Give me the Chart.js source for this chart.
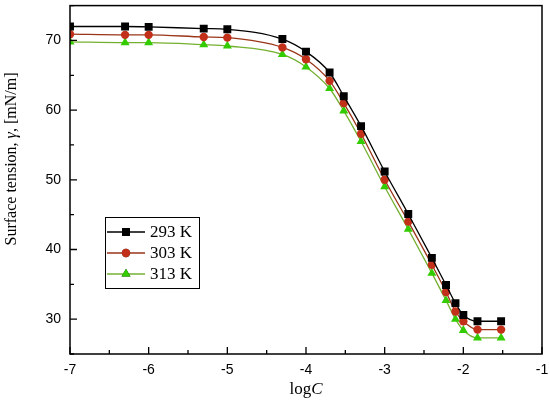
<!DOCTYPE html>
<html>
<head>
<meta charset="utf-8">
<script src="https://cdn.jsdelivr.net/npm/chart.js@4"></script>
<style>
  html, body { margin: 0; padding: 0; background: #fff; }
  #wrap { width: 550px; height: 406px; position: relative; }
</style>
</head>
<body>
<div id="wrap"><canvas id="chart"></canvas></div>
<script>
// logC values (same for all temperatures)
const logC = [-7, -6.3, -6, -5.3, -5, -4.3, -4, -3.7, -3.52, -3.3, -3, -2.7, -2.4, -2.22, -2.1, -2, -1.82, -1.52];

// surface tension, mN/m
const gamma293 = [72.0, 72.0, 71.95, 71.7, 71.6, 70.2, 68.4, 65.4, 62.0, 57.7, 51.2, 45.1, 38.8, 34.9, 32.3, 30.6, 29.7, 29.7];
const gamma303 = [70.9, 70.8, 70.8, 70.5, 70.4, 69.0, 67.3, 64.2, 61.0, 56.6, 50.0, 44.0, 37.8, 33.9, 31.1, 29.7, 28.5, 28.5];
const gamma313 = [69.8, 69.7, 69.7, 69.4, 69.2, 68.0, 66.2, 63.1, 59.9, 55.5, 49.0, 42.9, 36.6, 32.7, 30.0, 28.4, 27.3, 27.3];

const seriesNames = ['293 K', '303 K', '313 K'];

const xTicks = [-7, -6, -5, -4, -3, -2, -1];
const yTicks = [30, 40, 50, 60, 70];

const serif = '"Liberation Serif", "Times New Roman", serif';
const sans = '"Liberation Sans", Arial, sans-serif';

const toPts = (ys) => ys.map((y, i) => ({ x: logC[i], y: y }));

// no extra room for the end labels, the frame is placed by layout.padding
const noPad = (s) => { s.paddingTop = 0; s.paddingBottom = 0; s.paddingLeft = 0; s.paddingRight = 0; };

// inward ticks, box frame, axis titles and the legend
const framePlugin = {
    id: 'frame',
    afterDraw(chart) {
        const ctx = chart.ctx;
        const a = chart.chartArea;
        const xs = chart.scales.x;
        const ys = chart.scales.y;
        ctx.save();
        ctx.strokeStyle = '#000';
        ctx.lineWidth = 1.5;
        ctx.strokeRect(a.left, a.top, a.right - a.left, a.bottom - a.top);

        ctx.lineWidth = 1.3;
        ctx.beginPath();
        for (let v = xs.min; v <= xs.max + 1e-9; v += 0.5) {
            const px = xs.getPixelForValue(v);
            const len = Math.abs(v - Math.round(v)) < 1e-6 ? 7 : 4;
            ctx.moveTo(px, a.bottom);
            ctx.lineTo(px, a.bottom - len);
        }
        for (let v = 25; v <= 75; v += 5) {
            const py = ys.getPixelForValue(v);
            const len = v % 10 === 0 ? 7 : 4;
            ctx.moveTo(a.left, py);
            ctx.lineTo(a.left + len, py);
        }
        ctx.stroke();

        // axis titles
        ctx.fillStyle = '#000';
        ctx.textBaseline = 'middle';
        ctx.font = '17px ' + serif;
        const w1 = ctx.measureText('log').width;
        ctx.font = 'italic 17px ' + serif;
        const w2 = ctx.measureText('C').width;
        const cx = (a.left + a.right) / 2 - (w1 + w2) / 2;
        ctx.textAlign = 'left';
        ctx.font = '17px ' + serif;
        ctx.fillText('log', cx, 390);
        ctx.font = 'italic 17px ' + serif;
        ctx.fillText('C', cx + w1, 390);

        ctx.save();
        ctx.translate(12, 159);
        ctx.rotate(-Math.PI / 2);
        const parts = [['Surface tension, ', ''], ['γ', 'italic '], [', [mN/m]', '']];
        let total = 0;
        parts.forEach(p => { ctx.font = p[1] + '16px ' + serif; total += ctx.measureText(p[0]).width; });
        let px = -total / 2;
        parts.forEach(p => {
            ctx.font = p[1] + '16px ' + serif;
            ctx.fillText(p[0], px, 0);
            px += ctx.measureText(p[0]).width;
        });
        ctx.restore();

        // legend
        ctx.lineWidth = 1;
        ctx.strokeRect(105.5, 217.5, 94, 71);
        chart.data.datasets.forEach((ds, i) => {
            const y = 232 + i * 21;
            ctx.strokeStyle = ds.borderColor;
            ctx.lineWidth = 1.3;
            ctx.beginPath();
            ctx.moveTo(107, y);
            ctx.lineTo(145, y);
            ctx.stroke();
            Chart.helpers.drawPoint(ctx, {
                pointStyle: ds.pointStyle,
                radius: ds.pointRadius,
                borderWidth: 0
            }, 126, y);
            ctx.fillStyle = ds.pointBackgroundColor;
            ctx.fill();
            ctx.fillStyle = '#000';
            ctx.font = '17px ' + serif;
            ctx.textAlign = 'left';
            ctx.fillText(seriesNames[i], 150, y + 1);
        });
        ctx.restore();
    }
};

new Chart(document.getElementById('chart'), {
    type: 'scatter',
    data: {
        datasets: [
            {
                label: seriesNames[0], data: toPts(gamma293), showLine: true,
                borderColor: '#000000', borderWidth: 1.3,
                pointStyle: 'rect', pointRadius: 5.6, pointBackgroundColor: '#000000', pointBorderWidth: 0,
                cubicInterpolationMode: 'monotone'
            },
            {
                label: seriesNames[1], data: toPts(gamma303), showLine: true,
                borderColor: '#9a3518', borderWidth: 1.3,
                pointStyle: 'circle', pointRadius: 4.2, pointBackgroundColor: '#c2301a', pointBorderWidth: 0,
                cubicInterpolationMode: 'monotone'
            },
            {
                label: seriesNames[2], data: toPts(gamma313), showLine: true,
                borderColor: '#74b030', borderWidth: 1.3,
                pointStyle: 'triangle', pointRadius: 5.2, pointBackgroundColor: '#33cc00', pointBorderWidth: 0,
                cubicInterpolationMode: 'monotone'
            }
        ]
    },
    options: {
        responsive: true,
        maintainAspectRatio: false,
        animation: false,
        layout: { padding: { top: 3, right: 8, left: 0, bottom: 0 } },
        plugins: { legend: { display: false }, tooltip: { enabled: false } },
        scales: {
            x: {
                type: 'linear', min: -7, max: -1,
                afterBuildTicks: (s) => { s.ticks = xTicks.map(v => ({ value: v })); },
                afterFit: (s) => { s.height = 52; noPad(s); },
                grid: { display: false, drawTicks: false },
                border: { display: false },
                ticks: { color: '#000', font: { family: sans, size: 14 }, padding: 8, maxRotation: 0 }
            },
            y: {
                type: 'linear', min: 25, max: 75,
                afterBuildTicks: (s) => { s.ticks = yTicks.map(v => ({ value: v })); },
                afterFit: (s) => { s.width = 70; noPad(s); },
                grid: { display: false, drawTicks: false },
                border: { display: false },
                ticks: { color: '#000', font: { family: sans, size: 14 }, padding: 9 }
            }
        }
    },
    plugins: [framePlugin]
});
</script>
</body>
</html>
